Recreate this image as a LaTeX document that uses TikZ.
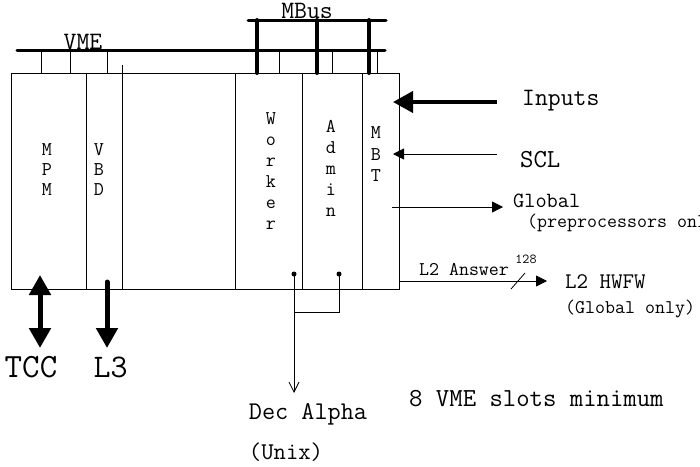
\documentclass[tikz,border=0pt]{standalone}
\usetikzlibrary{positioning,arrows.meta,calc}

\begin{document}
\begin{tikzpicture}[
    x=1pt, y=-1pt,
    font=\ttfamily,
    lbl/.style={inner sep=0pt, font=\ttfamily\fontsize{#1}{#1}\selectfont},
    slot/.style={inner sep=0pt, align=center, font=\ttfamily\fontsize{19.5}{#1}\selectfont},
    frame/.style={line width=0.8pt},
    bus/.style={line width=3pt, line cap=round},
    busleg/.style={line width=4pt, line cap=round},
    stub/.style={line width=0.8pt},
    fatarrow/.style={-{Triangle[length=20pt,width=21pt]}, line width=4pt},
    fatboth/.style={{Triangle[length=20pt,width=21pt]}-{Triangle[length=20pt,width=21pt]}, line width=5pt},
    thinarrow/.style={-{Triangle[length=11pt,width=11pt]}, line width=0.8pt},
    openarrow/.style={-{Straight Barb[length=10pt,width=10pt]}, line width=0.8pt},
    dot/.style={circle, fill, inner sep=0pt, minimum size=5pt}
]
\path[clip] (0,0) rectangle (700,466);

% --- Crate ---
\node[draw, frame, minimum width=388pt, minimum height=216pt, inner sep=0pt] (crate) at (205,181) {};
\foreach \x in {86,235,302,362}
    \draw[frame] (\x,73) -- (\x,289);
\draw[frame] (122,65) -- (122,289);

% --- Slots ---
\node[slot=20] (mpm) at (47,170) {M\\P\\M};
\node[slot=20] (vbd) at (99,170) {V\\B\\D};
\node[slot=21] (worker) at (271,171.5) {W\\o\\r\\k\\e\\r};
\node[slot=21] (admin) at (331,168.5) {A\\d\\m\\i\\n};
\node[slot=21.5] (mbt) at (376,154.5) {M\\B\\T};

% --- Buses ---
\node[lbl=25] (vme) at (83,42) {VME};
\node[lbl=25] (mbus) at (307,11) {MBus};
\draw[bus] (17,50) -- (385,50);
\foreach \x in {41,70,107,279,332,377}
    \draw[stub] (\x,50) -- (\x,73);
\draw[bus] (248,20) -- (386,20);
\foreach \x in {257,317,369}
    \draw[busleg] (\x,20) -- (\x,73);

% --- Right side ---
\node[lbl=25, anchor=west] (inputs) at (522,101) {Inputs};
\node[lbl=26, anchor=west] (scl) at (520,160) {SCL};
\node[lbl=21.7, anchor=west] (global) at (513,201) {Global};
\node[lbl=19.4, anchor=west] (preproc) at (527,223) {(preprocessors only)};
\node[lbl=19.4] (answer) at (464,269) {L2 Answer};
\node[lbl=13.7] (width) at (526,259) {128};
\node[lbl=22.3, anchor=west] (hwfw) at (565,282) {L2 HWFW};
\node[lbl=19.4, anchor=west] (globonly) at (565,309) {(Global only)};

\coordinate (in-a) at (497,102);
\coordinate (in-b) at (393,102);
\coordinate (scl-a) at (497,154);
\coordinate (scl-b) at (393,154);
\coordinate (glob-a) at (392,207);
\coordinate (glob-b) at (503,207);
\coordinate (ans-b) at (547,281);

\draw[fatarrow] (in-a) -- (in-b);
\draw[thinarrow] (scl-a) -- (scl-b);
\draw[thinarrow] (glob-a) -- (glob-b);
\draw[thinarrow] (crate.east |- ans-b) -- (ans-b);
\draw[frame] (511,289) -- (525,273);

% --- Bottom ---
\node[lbl=34] (tcc) at (31,367) {TCC};
\node[lbl=33] (l3) at (110.5,367) {L3};
\draw[fatboth] (40,275) -- (40,348);
\draw[fatarrow, line width=5pt, line cap=round] (107,282) -- (107,348);

\node[dot] (wdot) at (294,274) {};
\node[dot] (adot) at (339,274) {};
\node[lbl=25.5] (alpha) at (308,414) {Dec Alpha};
\node[lbl=24] (unix) at (286,452) {(Unix)};
\coordinate (alpha-tip) at (294,393);
\draw[openarrow] (wdot.center) -- (alpha-tip);
\draw[frame] (adot.center) -- (339,312) -- (294,312);

\node[lbl=26, anchor=west] (slots) at (409,399) {8 VME slots minimum};

\end{tikzpicture}
\end{document}
